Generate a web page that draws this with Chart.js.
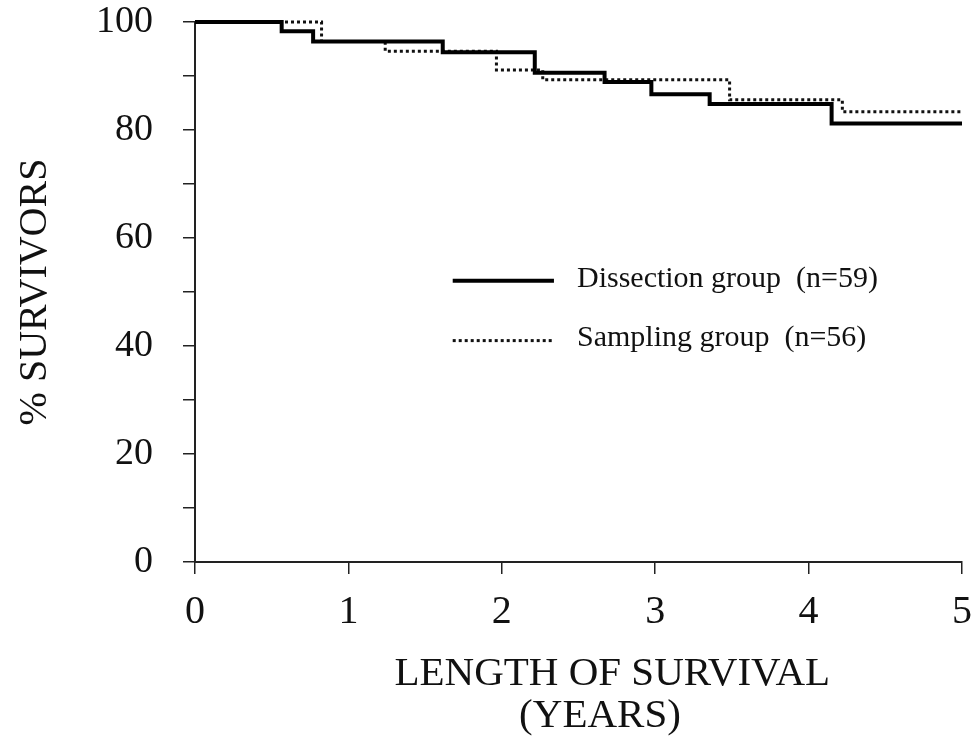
<!DOCTYPE html>
<html>
<head>
<meta charset="utf-8">
<script src="https://cdn.jsdelivr.net/npm/chart.js@4.4.1/dist/chart.umd.min.js"></script>
<style>
  body { margin: 0; background: #fff; }
  canvas { display: block; }
</style>
</head>
<body>
<canvas id="km-chart" width="974" height="736"></canvas>
<script>
// Kaplan-Meier steps: time of each drop (years) and % surviving after it
var dissectionYears = [0, 0.565, 0.77, 1.615, 2.215, 2.67, 2.975, 3.355, 4.15, 5];
var dissectionPct   = [100, 98.3, 96.4, 94.4, 90.6, 88.9, 86.6, 84.8, 81.2, 81.2];
var samplingYears   = [0, 0.825, 1.24, 1.965, 2.267, 3.485, 4.22, 5];
var samplingPct     = [100, 96.4, 94.6, 91.1, 89.3, 85.6, 83.4, 83.4];

var seriesLabels = ['Dissection group  (n=59)', 'Sampling group  (n=56)'];
var xTitleLines = ['LENGTH OF SURVIVAL', '(YEARS)'];
var yTitle = '% SURVIVORS';

var serif = '"Liberation Serif", "Times New Roman", serif';
var ink = '#111';

function toPoints(xs, ys) {
    return xs.map(function (x, i) { return { x: x, y: ys[i] }; });
}

// legend drawn inside the plot, placed in data units
var kmLegend = {
    id: 'kmLegend',
    afterDatasetsDraw: function (chart) {
        var ctx = chart.ctx;
        var xs = chart.scales.x, ys = chart.scales.y;
        var rows = [52.1, 41.0];
        ctx.save();
        ctx.font = '30px ' + serif;
        ctx.fillStyle = ink;
        ctx.textBaseline = 'middle';
        chart.data.datasets.forEach(function (ds, i) {
            var y = ys.getPixelForValue(rows[i]);
            ctx.beginPath();
            ctx.strokeStyle = ds.borderColor;
            ctx.lineWidth = ds.borderWidth;
            ctx.setLineDash(ds.borderDash || []);
            ctx.moveTo(xs.getPixelForValue(1.68), y);
            ctx.lineTo(xs.getPixelForValue(2.34), y);
            ctx.stroke();
            ctx.setLineDash([]);
            ctx.fillText(ds.label, xs.getPixelForValue(2.49), y - 2);
        });
        ctx.restore();
    }
};

// two-line x axis title, set a little right of centre
var xTitle = {
    id: 'xTitle',
    afterDraw: function (chart) {
        var ctx = chart.ctx;
        var xs = chart.scales.x;
        ctx.save();
        ctx.font = '41px ' + serif;
        ctx.fillStyle = ink;
        ctx.textAlign = 'center';
        ctx.textBaseline = 'alphabetic';
        ctx.fillText(xTitleLines[0], xs.getPixelForValue(2.72), 685);
        ctx.fillText(xTitleLines[1], xs.getPixelForValue(2.64), 727);
        ctx.restore();
    }
};

new Chart(document.getElementById('km-chart'), {
    type: 'line',
    data: {
        datasets: [{
            label: seriesLabels[0],
            data: toPoints(dissectionYears, dissectionPct),
            borderColor: '#000',
            borderWidth: 4,
            stepped: 'before',
            pointRadius: 0,
            fill: false,
            clip: false
        }, {
            label: seriesLabels[1],
            data: toPoints(samplingYears, samplingPct),
            borderColor: '#111',
            borderWidth: 3,
            borderDash: [3, 3],
            stepped: 'before',
            pointRadius: 0,
            fill: false,
            clip: false
        }]
    },
    options: {
        responsive: false,
        animation: false,
        layout: { padding: { top: 2, right: 12, bottom: 100, left: 0 } },
        plugins: {
            legend: { display: false },
            tooltip: { enabled: false }
        },
        scales: {
            x: {
                type: 'linear',
                min: 0,
                max: 5,
                ticks: {
                    stepSize: 1,
                    padding: 14,
                    color: ink,
                    font: { family: serif, size: 40 }
                },
                grid: {
                    drawOnChartArea: false,
                    drawTicks: true,
                    tickLength: 12,
                    color: '#222',
                    lineWidth: 1.5
                },
                border: { display: true, color: '#222', width: 2 },
                afterFit: function (s) {
                    s.height = 74;
                    s.paddingLeft = 0;
                    s.paddingRight = 0;
                }
            },
            y: {
                min: 0,
                max: 100,
                ticks: {
                    stepSize: 10,
                    padding: 30,
                    color: ink,
                    font: { family: serif, size: 38 },
                    callback: function (v) { return v % 20 === 0 ? v : ''; }
                },
                grid: {
                    drawOnChartArea: false,
                    drawTicks: true,
                    tickLength: 12,
                    color: '#222',
                    lineWidth: 1.5
                },
                border: { display: true, color: '#222', width: 2 },
                title: {
                    display: true,
                    text: yTitle,
                    color: ink,
                    font: { family: serif, size: 40 },
                    padding: { top: 11, bottom: 38 }
                },
                afterFit: function (s) {
                    s.width = 195;
                    s.paddingTop = 22;
                    s.paddingBottom = 0;
                }
            }
        }
    },
    plugins: [kmLegend, xTitle]
});
</script>
</body>
</html>
